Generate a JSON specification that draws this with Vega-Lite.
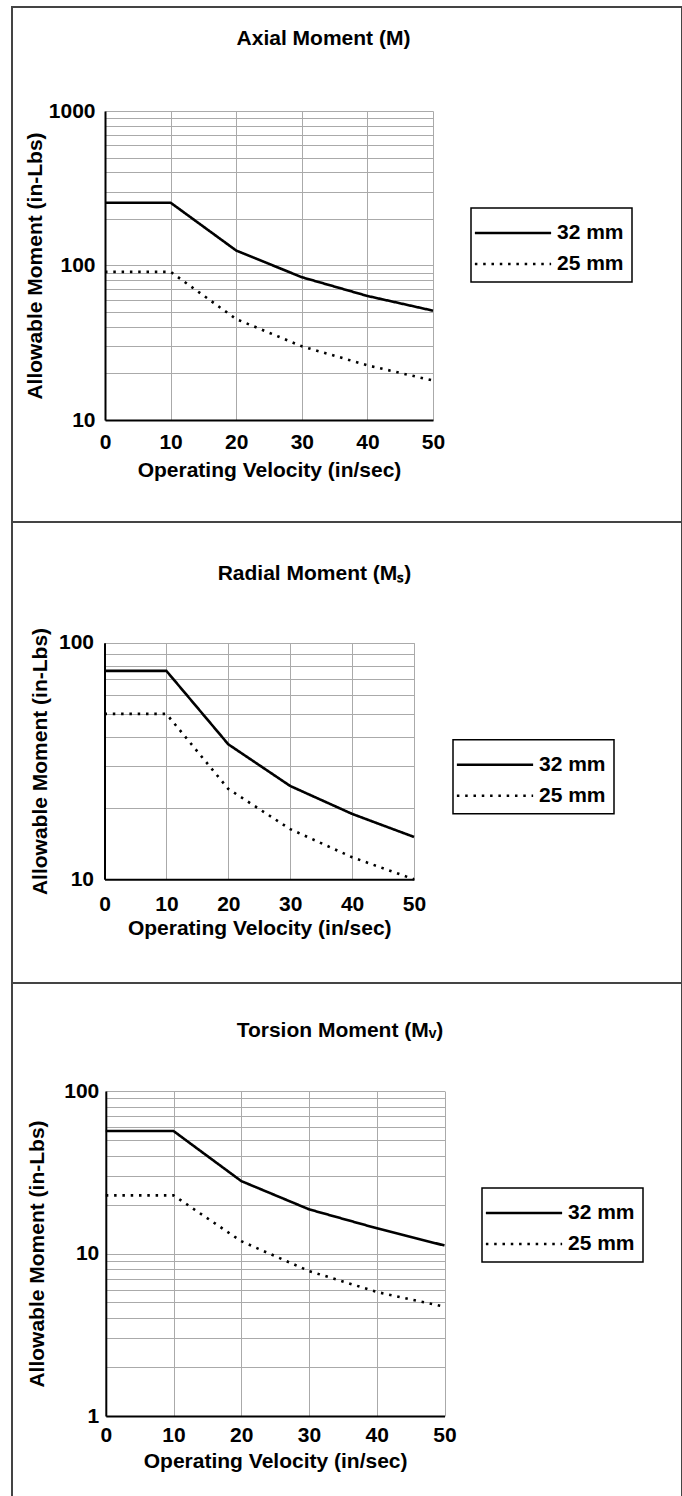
{
  "$schema": "https://vega.github.io/schema/vega-lite/v6.json",
  "padding": {"left": 11, "top": 6, "right": 0, "bottom": 0},
  "spacing": 0,
  "bounds": "flush",
  "resolve": {"scale": {"strokeDash": "independent"}, "legend": {"strokeDash": "independent"}},
  "config": {
    "font": "Liberation Sans",
    "view": {"stroke": "#444", "strokeWidth": 2},
    "axis": {
      "labelFontSize": 21, "labelFontWeight": "bold", "labelColor": "black",
      "titleFontSize": 21, "titleFontWeight": "bold", "titleColor": "black",
      "domainColor": "black", "domainWidth": 2,
      "gridColor": "#aaaaaa", "gridWidth": 1, "gridOpacity": 1,
      "ticks": false, "labelFlush": false, "labelOverlap": false, "labelBound": false
    },
    "legend": {
      "labelFontSize": 21, "labelFontWeight": "bold", "labelColor": "black",
      "strokeColor": "black", "strokeWidth": 1.5, "padding": 8,
      "symbolType": "M-2.5,0H2.5", "symbolSize": 930, "symbolStrokeWidth": 2.6,
      "symbolStrokeColor": "black", "symbolFillColor": "transparent",
      "symbolOffset": 17, "labelOffset": 27, "rowPadding": 4, "labelLimit": 0
    },
    "title": {"fontSize": 21, "fontWeight": "bold", "color": "black", "anchor": "middle", "frame": "group", "baseline": "alphabetic"},
    "line": {"stroke": "black", "strokeWidth": 2.6}
  },
  "vconcat": [
    {
      "width": 670, "height": 515,
      "title": {"text": "Axial Moment (M)", "offset": -42, "dx": -23.5},
      "data": {"values": [
        {"velocity": 0, "moment": 255, "size": "32 mm"},
        {"velocity": 10, "moment": 255, "size": "32 mm"},
        {"velocity": 20, "moment": 125, "size": "32 mm"},
        {"velocity": 30, "moment": 84, "size": "32 mm"},
        {"velocity": 40, "moment": 63.5, "size": "32 mm"},
        {"velocity": 50, "moment": 51, "size": "32 mm"},
        {"velocity": 0, "moment": 91, "size": "25 mm"},
        {"velocity": 10, "moment": 91, "size": "25 mm"},
        {"velocity": 20, "moment": 45, "size": "25 mm"},
        {"velocity": 30, "moment": 30, "size": "25 mm"},
        {"velocity": 40, "moment": 22.6, "size": "25 mm"},
        {"velocity": 50, "moment": 18, "size": "25 mm"}
      ]},
      "layer": [
        {
          "mark": {"type": "point", "opacity": 0},
          "encoding": {
            "x": {"field": "velocity", "type": "quantitative",
              "scale": {"domain": [0, 50], "range": [93, 421], "nice": false, "zero": false},
              "axis": {"orient": "top", "grid": true, "labels": false, "domain": false, "ticks": false, "title": null, "values": [0, 10, 20, 30, 40, 50]}},
            "y": {"field": "moment", "type": "quantitative",
              "scale": {"type": "log", "domain": [10, 1000], "range": [413, 104], "nice": false},
              "axis": {"title": "Allowable Moment (in-Lbs)", "values": [10, 20, 30, 40, 50, 60, 70, 80, 90, 100, 200, 300, 400, 500, 600, 700, 800, 900, 1000], "format": "d",
                "labelExpr": "indexof(['1','10','100','1000'], datum.label) >= 0 ? datum.label : ''",
                "offset": -93, "labelPadding": 10, "titlePadding": 3}}
          }
        },
        {
          "mark": {"type": "line", "clip": false},
          "encoding": {
            "x": {"field": "velocity", "type": "quantitative",
              "scale": {"domain": [0, 50], "range": [93, 421], "nice": false, "zero": false},
              "axis": {"orient": "bottom", "grid": false, "title": "Operating Velocity (in/sec)", "values": [0, 10, 20, 30, 40, 50], "format": "d", "offset": -102, "labelPadding": 11, "titlePadding": 7}},
            "y": {"field": "moment", "type": "quantitative",
              "scale": {"type": "log", "domain": [10, 1000], "range": [413, 104], "nice": false},
              "axis": {"title": "Allowable Moment (in-Lbs)", "values": [10, 20, 30, 40, 50, 60, 70, 80, 90, 100, 200, 300, 400, 500, 600, 700, 800, 900, 1000], "format": "d",
                "labelExpr": "indexof(['1','10','100','1000'], datum.label) >= 0 ? datum.label : ''",
                "offset": -93, "labelPadding": 10, "titlePadding": 3}},
            "strokeDash": {"field": "size", "type": "nominal",
              "scale": {"domain": ["32 mm", "25 mm"], "range": [[1, 0], [2.5, 5.8]]},
              "legend": {"title": null, "orient": "none", "legendX": 459, "legendY": 201}}
          }
        }
      ]
    },
    {
      "width": 670, "height": 461,
      "title": {"text": "Radial Moment (Mₛ)", "offset": -62, "dx": -32.5},
      "data": {"values": [
        {"velocity": 0, "moment": 76, "size": "32 mm"},
        {"velocity": 10, "moment": 76, "size": "32 mm"},
        {"velocity": 20, "moment": 37.2, "size": "32 mm"},
        {"velocity": 30, "moment": 24.8, "size": "32 mm"},
        {"velocity": 40, "moment": 18.9, "size": "32 mm"},
        {"velocity": 50, "moment": 15.1, "size": "32 mm"},
        {"velocity": 0, "moment": 50, "size": "25 mm"},
        {"velocity": 10, "moment": 50, "size": "25 mm"},
        {"velocity": 20, "moment": 24.1, "size": "25 mm"},
        {"velocity": 30, "moment": 16.3, "size": "25 mm"},
        {"velocity": 40, "moment": 12.4, "size": "25 mm"},
        {"velocity": 50, "moment": 10, "size": "25 mm"}
      ]},
      "layer": [
        {
          "mark": {"type": "point", "opacity": 0},
          "encoding": {
            "x": {"field": "velocity", "type": "quantitative",
              "scale": {"domain": [0, 50], "range": [92.5, 402], "nice": false, "zero": false},
              "axis": {"orient": "top", "grid": true, "labels": false, "domain": false, "ticks": false, "title": null, "values": [0, 10, 20, 30, 40, 50]}},
            "y": {"field": "moment", "type": "quantitative",
              "scale": {"type": "log", "domain": [10, 100], "range": [357.3, 120.7], "nice": false},
              "axis": {"title": "Allowable Moment (in-Lbs)", "values": [10, 20, 30, 40, 50, 60, 70, 80, 90, 100], "format": "d",
                "labelExpr": "indexof(['1','10','100','1000'], datum.label) >= 0 ? datum.label : ''",
                "offset": -92.5, "labelPadding": 11, "titlePadding": 8}}
          }
        },
        {
          "mark": {"type": "line", "clip": false},
          "encoding": {
            "x": {"field": "velocity", "type": "quantitative",
              "scale": {"domain": [0, 50], "range": [92.5, 402], "nice": false, "zero": false},
              "axis": {"orient": "bottom", "grid": false, "title": "Operating Velocity (in/sec)", "values": [0, 10, 20, 30, 40, 50], "format": "d", "offset": -103.7, "labelPadding": 14, "titlePadding": 3}},
            "y": {"field": "moment", "type": "quantitative",
              "scale": {"type": "log", "domain": [10, 100], "range": [357.3, 120.7], "nice": false},
              "axis": {"title": "Allowable Moment (in-Lbs)", "values": [10, 20, 30, 40, 50, 60, 70, 80, 90, 100], "format": "d",
                "labelExpr": "indexof(['1','10','100','1000'], datum.label) >= 0 ? datum.label : ''",
                "offset": -92.5, "labelPadding": 11, "titlePadding": 8}},
            "strokeDash": {"field": "size", "type": "nominal",
              "scale": {"domain": ["32 mm", "25 mm"], "range": [[1, 0], [2.5, 5.8]]},
              "legend": {"title": null, "orient": "none", "legendX": 441, "legendY": 217.7}}
          }
        }
      ]
    },
    {
      "width": 670, "height": 520,
      "title": {"text": "Torsion Moment (Mᵥ)", "offset": -58, "dx": -7},
      "data": {"values": [
        {"velocity": 0, "moment": 56.7, "size": "32 mm"},
        {"velocity": 10, "moment": 56.7, "size": "32 mm"},
        {"velocity": 20, "moment": 27.9, "size": "32 mm"},
        {"velocity": 30, "moment": 18.7, "size": "32 mm"},
        {"velocity": 40, "moment": 14.3, "size": "32 mm"},
        {"velocity": 50, "moment": 11.2, "size": "32 mm"},
        {"velocity": 0, "moment": 22.8, "size": "25 mm"},
        {"velocity": 10, "moment": 22.8, "size": "25 mm"},
        {"velocity": 20, "moment": 11.9, "size": "25 mm"},
        {"velocity": 30, "moment": 7.8, "size": "25 mm"},
        {"velocity": 40, "moment": 5.8, "size": "25 mm"},
        {"velocity": 50, "moment": 4.7, "size": "25 mm"}
      ]},
      "layer": [
        {
          "mark": {"type": "point", "opacity": 0},
          "encoding": {
            "x": {"field": "velocity", "type": "quantitative",
              "scale": {"domain": [0, 50], "range": [93.8, 432.5], "nice": false, "zero": false},
              "axis": {"orient": "top", "grid": true, "labels": false, "domain": false, "ticks": false, "title": null, "values": [0, 10, 20, 30, 40, 50]}},
            "y": {"field": "moment", "type": "quantitative",
              "scale": {"type": "log", "domain": [1, 100], "range": [433, 108], "nice": false},
              "axis": {"title": "Allowable Moment (in-Lbs)", "values": [1, 2, 3, 4, 5, 6, 7, 8, 9, 10, 20, 30, 40, 50, 60, 70, 80, 90, 100], "format": "d",
                "labelExpr": "indexof(['1','10','100','1000'], datum.label) >= 0 ? datum.label : ''",
                "offset": -93.8, "labelPadding": 7, "titlePadding": 16}}
          }
        },
        {
          "mark": {"type": "line", "clip": false},
          "encoding": {
            "x": {"field": "velocity", "type": "quantitative",
              "scale": {"domain": [0, 50], "range": [93.8, 432.5], "nice": false, "zero": false},
              "axis": {"orient": "bottom", "grid": false, "title": "Operating Velocity (in/sec)", "values": [0, 10, 20, 30, 40, 50], "format": "d", "offset": -87, "labelPadding": 8.5, "titlePadding": 5}},
            "y": {"field": "moment", "type": "quantitative",
              "scale": {"type": "log", "domain": [1, 100], "range": [433, 108], "nice": false},
              "axis": {"title": "Allowable Moment (in-Lbs)", "values": [1, 2, 3, 4, 5, 6, 7, 8, 9, 10, 20, 30, 40, 50, 60, 70, 80, 90, 100], "format": "d",
                "labelExpr": "indexof(['1','10','100','1000'], datum.label) >= 0 ? datum.label : ''",
                "offset": -93.8, "labelPadding": 7, "titlePadding": 16}},
            "strokeDash": {"field": "size", "type": "nominal",
              "scale": {"domain": ["32 mm", "25 mm"], "range": [[1, 0], [2.5, 5.8]]},
              "legend": {"title": null, "orient": "none", "legendX": 470, "legendY": 205}}
          }
        }
      ]
    }
  ]
}
